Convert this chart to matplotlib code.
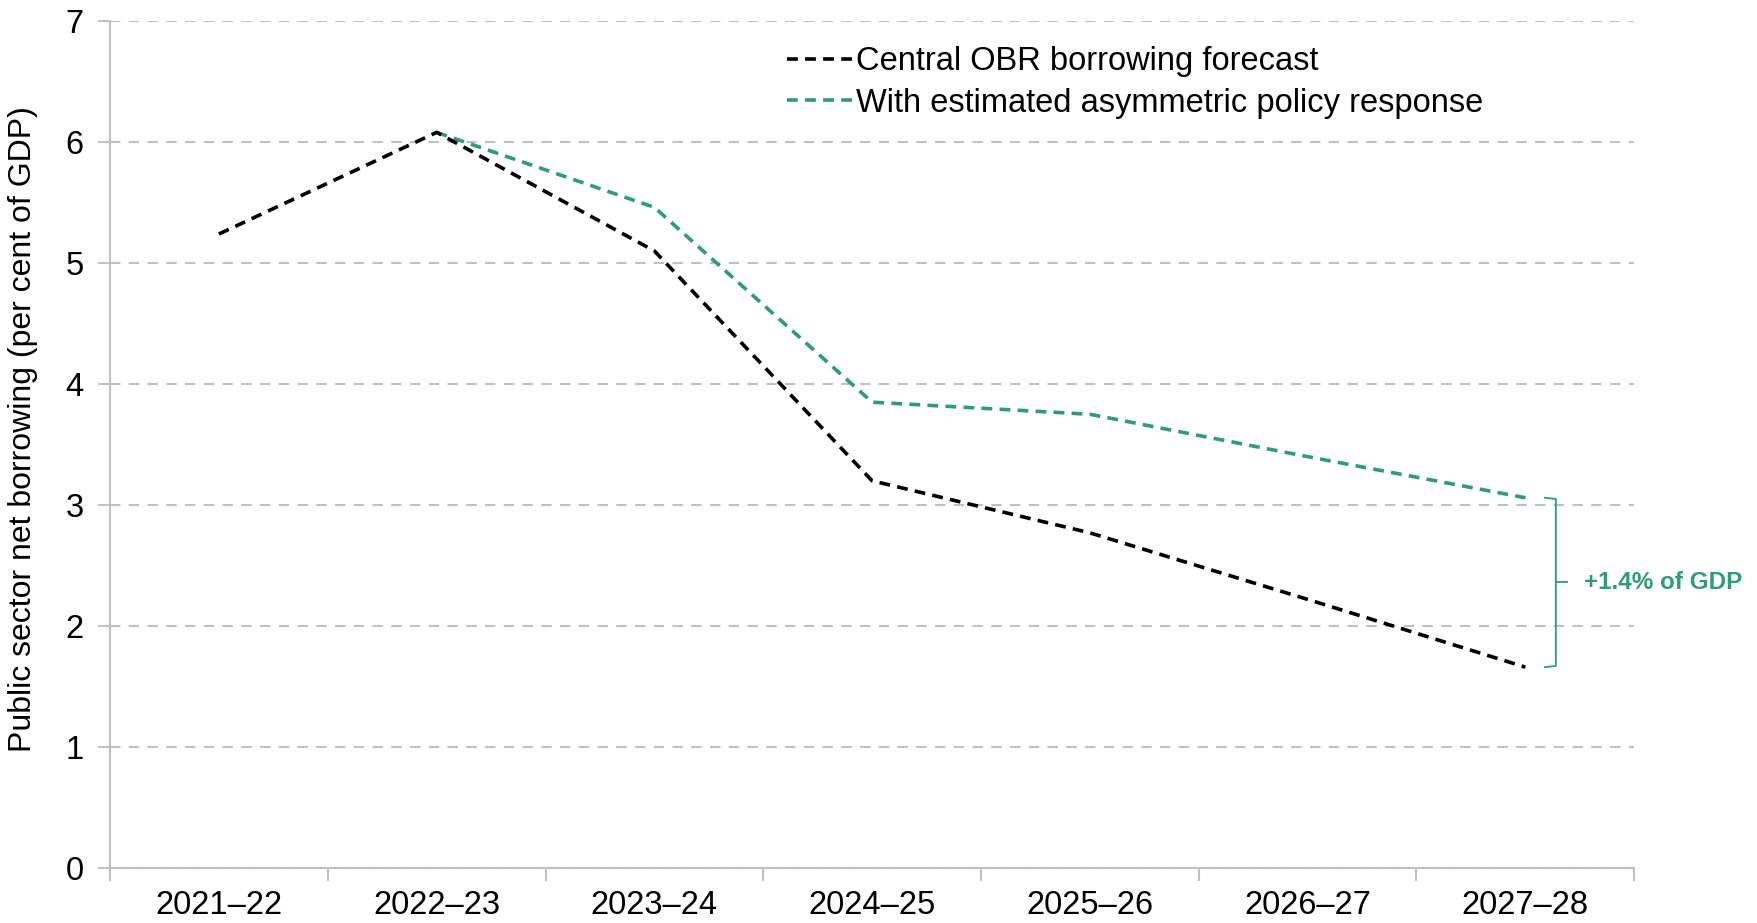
import matplotlib.pyplot as plt
from matplotlib.ticker import FixedLocator, NullFormatter

plt.rcParams['font.family'] = ['Liberation Sans', 'DejaVu Sans']

years = ["2021–22", "2022–23", "2023–24", "2024–25", "2025–26", "2026–27", "2027–28"]
central = [5.24, 6.08, 5.10, 3.20, 2.77, 2.22, 1.66]
# asymmetric response series starts in 2022-23
asym_years = years[1:]
asym = [6.08, 5.46, 3.85, 3.75, 3.40, 3.06]

GREEN = "#2e9c74"
GREY = "#c0c0c0"

fig = plt.figure(figsize=(17.58, 9.23), dpi=100)
ax = fig.add_axes([0.0626, 0.0596, 0.867, 0.9176])

x_all = list(range(len(years)))
x_asym = [years.index(y) for y in asym_years]

ax.plot(x_asym, asym, color=GREEN, lw=2.6, ls=(0, (3, 2)),
        label="With estimated asymmetric policy response", zorder=3)
ax.plot(x_all, central, color="black", lw=2.6, ls=(0, (3, 2)),
        label="Central OBR borrowing forecast", zorder=4)

ax.set_xlim(-0.5, len(years) - 0.5)
ax.set_ylim(0, 7)
ax.set_yticks(range(0, 8))
ax.set_xticks(x_all)
ax.set_xticklabels(years)
ax.xaxis.set_minor_locator(FixedLocator([i - 0.5 for i in range(len(years) + 1)]))
ax.xaxis.set_minor_formatter(NullFormatter())
ax.tick_params(axis="x", which="major", length=0, labelsize=23.5, pad=16)
ax.tick_params(axis="x", which="minor", length=9, width=1.5, color=GREY)
ax.tick_params(axis="y", length=9, width=1.5, color=GREY, labelsize=23.5, pad=10)

ax.grid(axis="y", color=GREY, ls=(0, (5, 4)), lw=1.5)
ax.set_axisbelow(True)
for side in ["top", "right"]:
    ax.spines[side].set_visible(False)
for side in ["left", "bottom"]:
    ax.spines[side].set_color(GREY)
    ax.spines[side].set_linewidth(1.5)

ax.set_ylabel("Public sector net borrowing (per cent of GDP)", fontsize=23)
ax.yaxis.set_label_coords(-0.047, 0.518)

handles, labels = ax.get_legend_handles_labels()
ax.legend(handles[::-1], labels[::-1], loc="upper left", bbox_to_anchor=(0.425, 1.005),
          frameon=False, fontsize=23.5, handlelength=2.0, handletextpad=0.1,
          labelspacing=0.32)

# bracket showing the gap in the final year
top, bot = asym[-1], central[-1]
bx = 6.14
hook = 0.05
ax.plot([bx - hook, bx, bx, bx - hook], [top, top - 0.01, bot + 0.01, bot],
        color=GREEN, lw=1.3, clip_on=False)
mid = (top + bot) / 2
ax.plot([bx, bx + 0.05], [mid, mid], color=GREEN, lw=1.3, clip_on=False)
ax.text(bx + 0.13, mid, f"+{top - bot:.1f}% of GDP", color=GREEN, fontsize=17.5,
        fontweight="bold", va="center", ha="left", clip_on=False)

fig.savefig("out.png", dpi=100)
